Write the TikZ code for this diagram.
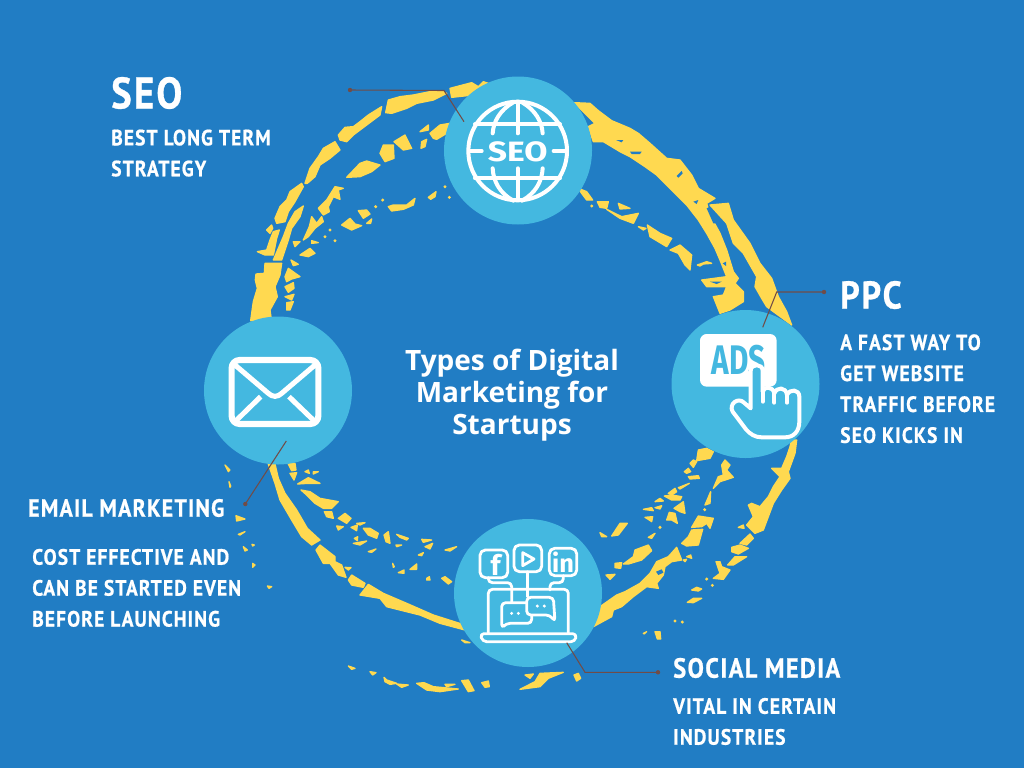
\documentclass[tikz,border=0pt]{standalone}
\usepackage{fontspec}
\usetikzlibrary{positioning}
\setmainfont{Open Sans}
\newfontfamily\brushfont[FakeStretch=0.88,LetterSpace=5,FakeBold=0.7]{PT Sans Bold}
\newfontfamily\iconfont{Fira Sans Bold}
\definecolor{pagebg}{RGB}{33,125,196}
\definecolor{hubblue}{RGB}{68,184,224}
\definecolor{ringyellow}{RGB}{255,217,80}
\definecolor{leaderbrown}{RGB}{112,76,72}
\newcommand{\blob}[1]{\filldraw[ringyellow,line width=1pt,line join=round] plot coordinates {#1} -- cycle;}
\newcommand{\gap}[1]{\fill[pagebg] plot coordinates {#1} -- cycle;}
\tikzset{
	hub/.style={circle,fill=hubblue,minimum size=111pt,inner sep=0pt},
	bighead/.style={anchor=west,inner sep=0pt,text=white,font=\brushfont\fontsize{33}{33}\selectfont},
	head/.style={anchor=west,inner sep=0pt,text=white,font=\brushfont\fontsize{18.6}{24}\selectfont},
	body/.style={anchor=north west,inner sep=0pt,text=white,align=left,font=\brushfont\fontsize{16.6}{23.2}\selectfont},
	leader/.style={draw=leaderbrown,line width=.8pt},
	leaderdot/.style={fill=leaderbrown},
	icon/.style={draw=white,line width=3pt,line cap=round,line join=round},
	thinicon/.style={draw=white,line width=2.1pt,line cap=round,line join=round}
}
\begin{document}
\begin{tikzpicture}[x=.75pt,y=-.75pt]
	\fill[pagebg] (0,0) rectangle (1024,768);
	\useasboundingbox (0,0) rectangle (1024,768);

	% upper left of the ring
	\begin{scope}[shift={(220,80)},scale=1/3]
		\blob{(92,722) (100,665) (112,625) (106,600) (108,582) (133,580) (135,550) (185,550) (180,585) (165,620) (172,650) (150,690) (155,725)}
		\blob{(112,515) (140,510) (150,480) (160,455) (178,450) (170,475) (160,525) (135,525)}
		\blob{(160,540) (190,470) (205,430) (225,395) (250,378) (240,410) (215,445) (205,480) (185,540)}
		\blob{(140,450) (155,435) (158,445) (150,460)}
		\blob{(165,415) (180,380) (200,360) (210,335) (245,310) (250,320) (225,365) (205,395) (195,425) (170,430)}
		\blob{(255,310) (270,265) (295,230) (310,205) (345,185) (360,210) (330,235) (300,255) (285,290) (262,310)}
		\blob{(355,165) (375,142) (400,140) (420,125) (445,105) (485,80) (480,105) (440,135) (400,165) (380,185) (360,180)}
		\blob{(497,98) (505,60) (540,50) (580,45) (630,35) (665,33) (680,40) (640,60) (590,70) (560,85) (515,100)}
		\blob{(380,292) (420,250) (440,243) (480,255) (455,275) (420,290)}
		\blob{(480,220) (490,195) (520,195) (522,235) (495,245)}
		\blob{(522,185) (555,165) (575,205) (550,210)}
		\blob{(600,155) (625,135) (625,150)}
		\blob{(630,160) (660,135) (690,130) (680,160) (650,178) (640,175)}
		\blob{(605,185) (620,178) (615,200) (603,205)}
		\blob{(295,385) (320,360) (345,320) (370,325) (355,330) (360,358) (340,350) (325,380) (328,395) (310,405)}
		\blob{(250,480) (268,440) (275,410) (290,430) (305,410) (310,425) (285,445) (265,470)}
		\blob{(220,485) (240,485) (225,500)}
		\blob{(240,525) (270,505) (285,520) (265,530)}
		\blob{(275,482) (295,488) (275,490)}
		\blob{(213,540) (235,553) (220,557)}
		\blob{(205,565) (240,590) (215,597) (200,605) (195,590)}
		\blob{(195,620) (220,608) (222,625) (205,637)}
		\blob{(195,650) (222,643) (215,660)}
		\blob{(200,668) (220,665) (210,690) (200,690)}
		\blob{(505,380) (520,375) (560,375) (585,355) (580,375) (550,388) (515,393)}
		\blob{(415,392) (440,390) (450,402) (430,415)}
		\blob{(365,435) (390,415) (405,432) (425,437) (395,450)}
		\blob{(625,352) (648,335) (645,350) (632,358)}
		\blob{(440,430) (455,417) (452,430)}
		\foreach \dotx/\doty in {488/360,467/380,675/320,688/352,345/482,330/450,315/470}
			\fill[ringyellow] (\dotx,\doty) circle (5);
	\end{scope}

	% top by the SEO hub
	\begin{scope}[shift={(340,70)},scale=1/3]
		\blob{(330,55) (395,38) (415,50) (430,35) (460,45) (400,75) (335,82)}
	\end{scope}

	% upper right of the ring
	\begin{scope}[shift={(570,90)},scale=1/3]
		\blob{(12,38) (60,40) (85,62) (125,92) (180,115) (205,130) (240,160) (290,205) (330,210) (365,255) (385,295) (435,325) (410,340) (420,375) (450,430) (470,480) (490,545) (505,565) (495,580) (520,605) (520,635) (480,660) (450,670) (430,620) (460,615) (470,590) (410,590) (395,570) (470,560) (450,510) (435,475) (410,430) (385,390) (350,345) (300,295) (260,255) (225,230) (180,200) (150,185) (100,155) (70,155) (55,110) (75,100) (50,75)}
		\gap{(180,185) (215,185) (210,192) (185,192)}
		\gap{(320,258) (335,243) (338,250) (325,263)}
		\gap{(138,150) (160,150) (155,157)}
		\gap{(370,335) (385,330) (380,342)}
		\gap{(410,355) (420,350) (440,400) (430,400)}
		\gap{(420,575) (455,575) (440,582)}
		\gap{(458,520) (468,515) (468,528)}
		\blob{(420,345) (475,340) (490,390) (540,460) (570,520) (605,565) (625,620) (650,665) (665,705) (590,650) (575,625) (555,590) (560,560) (520,490) (490,460) (470,400)}
		\blob{(25,295) (50,305) (68,330) (50,330) (35,310)}
		\blob{(82,335) (115,335) (110,355) (90,352)}
		\blob{(145,340) (180,355) (150,357)}
		\blob{(110,358) (155,380) (205,370) (190,400) (150,385)}
		\blob{(205,410) (228,415) (220,420)}
		\blob{(232,405) (270,430) (305,445) (290,470) (265,455) (240,440)}
		\blob{(300,480) (330,465) (365,495) (360,540) (345,525) (325,490)}
		\blob{(382,525) (410,515) (425,520) (400,522) (390,528)}
		\fill[ringyellow] (65,348) circle (5);
	\end{scope}

	% lower right of the ring
	\begin{scope}[shift={(600,440)},scale=1/3]
		\blob{(590,0) (585,40) (565,95) (570,115) (545,150) (520,190) (490,270) (465,280) (440,255) (460,230) (445,195) (455,190) (480,200) (505,170) (520,140) (540,110) (515,85) (545,85) (560,50) (570,20) (575,0)}
		\blob{(420,310) (450,282) (460,295) (440,315)}
		\blob{(395,322) (420,315) (445,325) (415,342) (395,335)}
		\blob{(383,375) (405,350) (440,350) (400,375)}
		\blob{(340,415) (360,400) (348,365) (360,365) (365,380) (390,390) (370,418)}
		\blob{(275,450) (290,442) (305,447) (295,453)}
		\blob{(262,487) (280,475) (305,475) (280,488)}
		\blob{(415,262) (430,255) (432,265)}
		\blob{(295,30) (320,25) (340,35) (330,55) (290,62)}
		\blob{(270,70) (280,60) (290,65) (280,82)}
		\blob{(253,95) (265,85) (272,95) (260,100)}
		\blob{(265,110) (295,107) (298,115) (270,117)}
		\blob{(340,145) (355,110) (370,105) (365,75) (375,60) (390,75) (380,90) (400,112) (360,125)}
		\blob{(235,143) (268,130) (240,147)}
		\blob{(315,195) (332,155) (330,190)}
		\blob{(205,160) (225,145) (230,155) (215,165)}
		\blob{(193,168) (215,165) (245,170) (240,180) (215,180)}
		\blob{(165,185) (180,175) (190,183)}
		\blob{(222,205) (250,185) (255,220) (240,215)}
		\blob{(130,208) (155,203) (160,212)}
		\blob{(165,203) (185,197) (180,207)}
		\blob{(135,232) (158,230) (155,245) (145,238)}
		\blob{(200,240) (208,217) (225,220) (232,250) (215,240)}
		\blob{(275,262) (295,228) (340,235) (330,265) (320,250) (305,260)}
		\blob{(245,310) (265,290) (275,270) (308,268) (295,315) (260,318)}
		\blob{(145,292) (165,280) (155,295)}
		\blob{(35,288) (60,250) (82,250) (55,285)}
		\blob{(0,278) (20,290) (5,290)}
		\blob{(0,500) (50,465) (75,455) (120,430) (150,400) (170,365) (205,350) (230,322) (245,360) (215,365) (195,380) (190,405) (170,430) (175,445) (140,440) (100,470) (65,500) (40,510) (35,530) (-20,560)}
		\gap{(168,395) (185,388) (190,398) (175,405)}
		\blob{(70,372) (100,350) (105,330) (145,315) (155,332) (125,360) (85,372)}
		\blob{(45,370) (65,368) (62,385) (45,383)}
		\blob{(18,405) (45,403) (30,418)}
		\blob{(260,350) (272,345) (275,355)}
		\blob{(250,360) (260,358) (255,365)}
		\blob{(165,575) (180,575) (182,597) (172,597)}
		\blob{(130,580) (140,575) (132,582)}
		\foreach \dotx/\doty in {314/209,180/262,320/417,337/436,247/546,225/543}
			\fill[ringyellow] (\dotx,\doty) circle (5);
	\end{scope}

	% lower left of the ring
	\begin{scope}[shift={(220,450)},scale=1/3]
		\blob{(145,42) (165,42) (175,85) (195,130) (230,180) (262,235) (300,270) (275,285) (245,260) (215,210) (180,150) (165,100)}
		\blob{(288,300) (300,285) (345,320) (345,335) (365,345) (378,382) (355,375) (330,340) (310,340)}
		\blob{(385,390) (395,375) (435,400) (430,412) (395,405)}
		\blob{(420,435) (445,403) (490,430) (560,460) (640,495) (725,522) (735,540) (660,520) (600,495) (500,470) (480,445)}
		\blob{(205,42) (225,40) (228,60) (215,62)}
		\blob{(210,70) (230,68) (222,90)}
		\blob{(255,65) (265,60) (268,70)}
		\blob{(280,65) (295,65) (280,72)}
		\blob{(233,102) (265,83) (300,100) (265,100)}
		\blob{(243,120) (270,125) (300,145) (355,155) (335,175) (310,175) (285,160) (260,135)}
		\blob{(313,185) (335,185) (340,205) (320,200)}
		\blob{(355,205) (375,190) (393,205) (380,220)}
		\blob{(350,228) (370,230) (355,240)}
		\blob{(393,232) (412,225) (410,242)}
		\blob{(410,220) (435,218) (420,225)}
		\blob{(430,235) (450,235) (475,250) (470,265) (445,255)}
		\blob{(400,280) (440,273) (420,285)}
		\blob{(403,265) (413,260) (412,272)}
		\blob{(445,305) (468,297) (455,307)}
		\blob{(492,255) (505,245) (510,280) (498,275)}
		\blob{(530,253) (565,265) (560,270) (540,262)}
		\blob{(605,268) (635,270) (610,277)}
		\blob{(615,290) (638,280) (630,297)}
		\blob{(528,285) (545,285) (530,290)}
		\blob{(675,300) (710,290) (690,303)}
		\blob{(595,315) (610,308) (605,317)}
		\blob{(570,358) (590,342) (590,358)}
		\blob{(535,368) (552,360) (552,370)}
		\blob{(665,385) (675,380) (695,395) (685,402)}
		\blob{(620,385) (628,380) (630,390) (620,390)}
		\blob{(518,340) (523,350) (520,352)}
		\blob{(375,352) (393,353) (385,360)}
		\blob{(385,648) (405,655) (395,658)}
		\blob{(450,665) (468,668) (458,675)}
		\blob{(492,682) (500,690) (530,700) (510,703) (495,695)}
		\blob{(530,702) (565,705) (545,712)}
		\blob{(590,700) (612,698) (640,710) (715,717) (660,725) (620,720)}
		\blob{(675,703) (705,703) (680,710)}
		\blob{(725,692) (745,690) (762,722) (745,725)}
		\blob{(785,698) (805,693) (808,710) (795,712)}
		\blob{(15,45) (30,60) (25,65)}
		\blob{(27,95) (32,108) (30,112)}
		\blob{(48,197) (75,207) (50,213)}
		\blob{(55,253) (75,245) (60,255)}
		\blob{(70,290) (82,300) (75,303)}
		\blob{(98,340) (105,345) (98,352)}
		\blob{(142,408) (155,410) (147,415)}
		\blob{(96,283) (103,285) (98,288)}
		\blob{(725,570) (750,578) (735,578)}
	\end{scope}

	% bottom by the social hub
	\begin{scope}[shift={(440,510)},scale=1/3]
		\blob{(240,538) (285,515) (300,490) (370,487) (325,505) (300,530)}
		\blob{(255,495) (280,492) (270,505)}
		\blob{(402,495) (415,490) (422,505) (410,513)}
		\blob{(465,345) (490,290) (520,275) (550,270) (500,320)}
	\end{scope}

	\node[hub] (seoHub) at (518,150.5) {};
	\node[hub] (ppcHub) at (745.5,384) {};
	\node[hub] (socialHub) at (528,593) {};
	\node[hub] (emailHub) at (278,390.5) {};

	% globe
	\begin{scope}[shift={(340,70)},scale=1/3]
		\draw[icon] (533,243) circle (148);
		\draw[icon] (405,163) -- (660,163);
		\draw[icon] (405,325) -- (660,325);
		\draw[icon] (533,95) -- (533,190);
		\draw[icon] (533,295) -- (533,390);
		\draw[icon] (520,97) .. controls (480,120) and (460,155) .. (458,190);
		\draw[icon] (546,97) .. controls (586,120) and (606,155) .. (608,190);
		\draw[icon] (458,295) .. controls (460,335) and (480,370) .. (520,392);
		\draw[icon] (608,295) .. controls (606,335) and (586,370) .. (546,392);
		\draw[icon] (392,243) -- (425,243);
		\draw[icon] (641,243) -- (675,243);
		\node[text=white,xscale=1.2,font=\iconfont\fontsize{21}{21}\selectfont] (globeLabel) at (533,245) {SEO};
	\end{scope}

	% ads button and hand
	\begin{scope}[shift={(660,280)},scale=1/3]
		\fill[white,rounded corners=5pt] (120,162) rectangle (350,320);
		\node[text=hubblue,xscale=.72,font=\iconfont\fontsize{31}{31}\selectfont] (adsLabel) at (236,240) {ADS};
		\filldraw[fill=hubblue,icon] (272,385) -- (272,272) .. controls (272,250) and (308,250) .. (308,272) -- (308,335) .. controls (312,318) and (338,318) .. (343,340) .. controls (350,320) and (378,320) .. (381,345) .. controls (390,325) and (418,328) .. (418,350) -- (418,425) .. controls (418,455) and (400,472) .. (375,472) -- (305,472) .. controls (285,472) and (270,462) .. (258,448) -- (218,395) .. controls (205,372) and (235,350) .. (252,368) -- cycle;
		\draw[icon] (308,335) -- (308,365);
		\draw[icon] (343,340) -- (343,368);
		\draw[icon] (381,345) -- (381,368);
	\end{scope}

	% envelope
	\begin{scope}[shift={(190,310)},scale=1/3]
		\draw[icon,line width=4.6pt,rounded corners=6pt] (125,150) rectangle (385,342);
		\draw[icon,line width=3.8pt] (135,165) -- (235,250) .. controls (248,262) and (262,262) .. (275,250) -- (375,165);
		\draw[icon,line width=3.8pt,line cap=butt] (135,335) -- (212,260);
		\draw[icon,line width=3.8pt,line cap=butt] (375,335) -- (297,260);
	\end{scope}

	% laptop and social boxes
	\begin{scope}[shift={(440,510)},scale=1/3]
		\draw[thinicon,rounded corners=4pt] (120,120) rectangle (203,203);
		\draw[thinicon,rounded corners=4pt] (222,105) rectangle (305,185);
		\draw[thinicon,rounded corners=4pt] (328,115) rectangle (410,197);
		\draw[thinicon] (248,128) -- (282,147) -- (248,167) -- cycle;
		\node[text=white,font=\iconfont\fontsize{21}{21}\selectfont] (fbLabel) at (167,165) {f};
		\node[text=white,font=\iconfont\fontsize{19}{19}\selectfont] (inLabel) at (369,157) {in};
		\draw[thinicon,rounded corners=3pt] (145,203) -- (145,218) -- (215,218) -- (215,275);
		\draw[thinicon] (263,185) -- (263,260);
		\draw[thinicon,rounded corners=3pt] (370,197) -- (370,218) -- (330,218) -- (330,240);
		\draw[thinicon,rounded corners=3pt] (145,368) -- (145,238) -- (385,238) -- (385,368);
		\draw[thinicon,rounded corners=3pt] (120,371) -- (410,371) -- (405,395) -- (128,395) -- cycle;
		\filldraw[fill=hubblue,thinicon,rounded corners=3pt] (185,355) -- (185,278) -- (275,278) -- (275,340) -- (198,340) -- cycle;
		\filldraw[fill=hubblue,thinicon,rounded corners=3pt] (345,335) -- (340,262) -- (260,262) -- (260,315) -- (330,315) -- cycle;
		\foreach \dotx/\doty in {215/310,235/310,292/288,313/288}
			\fill[white] (\dotx,\doty) circle (5);
	\end{scope}

	% leaders
	\coordinate (seoDot) at (350,90);
	\coordinate (seoBend) at (444,90.5);
	\coordinate (seoEnd) at (464,121.7);
	\coordinate (ppcDot) at (824,292);
	\coordinate (ppcBend) at (776.7,292);
	\coordinate (ppcEnd) at (762.7,327.3);
	\coordinate (socialDot) at (658,672.3);
	\coordinate (socialBend) at (585,672.3);
	\coordinate (socialEnd) at (566.7,642.7);
	\coordinate (emailDot) at (245.3,504);
	\coordinate (emailEnd) at (286.3,441);
	\draw[leader] (seoDot) -- (seoBend) -- (seoEnd);
	\draw[leader] (ppcDot) -- (ppcBend) -- (ppcEnd);
	\draw[leader] (socialDot) -- (socialBend) -- (socialEnd);
	\draw[leader] (emailDot) -- (emailEnd);
	\foreach \leadname in {seoDot,ppcDot,socialDot,emailDot}
		\fill[leaderdot] (\leadname) circle (2.2);

	% texts
	\node[text=white,align=center,font=\bfseries\fontsize{21}{24}\selectfont] (titleText) at (512,395) {Types of Digital\\Marketing for\\Startups};

	\node[bighead] (seoHead) at (111,93) {SEO};
	\node[body,below=15pt of seoHead.south west,anchor=north west] (seoText) {BEST LONG TERM\\STRATEGY};

	\node[bighead,font=\brushfont\fontsize{29}{29}\selectfont] (ppcHead) at (840,295) {PPC};
	\node[body,below=18.5pt of ppcHead.south west,anchor=north west] (ppcText) {A FAST WAY TO\\GET WEBSITE\\TRAFFIC BEFORE\\SEO KICKS IN};

	\node[head] (emailHead) at (28,508) {EMAIL MARKETING};
	\node[body,below=23.5pt of emailHead.south west,anchor=north west,xshift=3pt] (emailText) {COST EFFECTIVE AND\\CAN BE STARTED EVEN\\BEFORE LAUNCHING};

	\node[head,font=\brushfont\fontsize{20.8}{24}\selectfont] (socialHead) at (673,668) {SOCIAL MEDIA};
	\node[body,below=14.5pt of socialHead.south west,anchor=north west] (socialText) {VITAL IN CERTAIN\\INDUSTRIES};
\end{tikzpicture}
\end{document}
